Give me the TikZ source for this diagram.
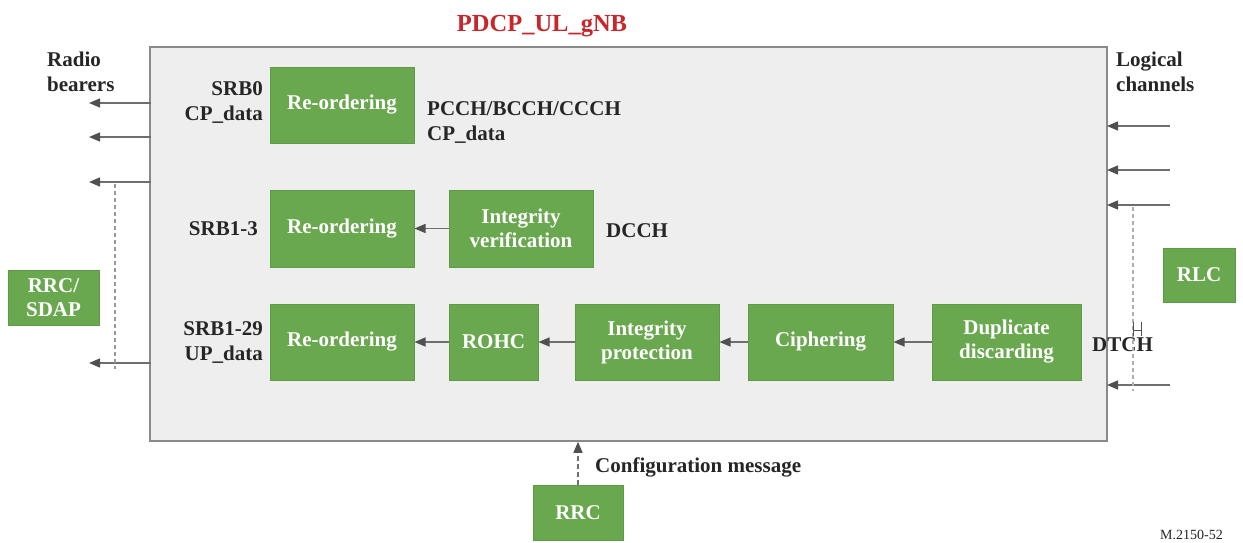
\documentclass[tikz,border=0pt]{standalone}
\usepackage{fontspec}
\setmainfont{Liberation Serif}
\usetikzlibrary{arrows.meta}
\definecolor{grn}{HTML}{6AA84F}
\definecolor{grnd}{HTML}{5E9A45}
\definecolor{bg}{HTML}{EEEEEE}
\definecolor{frame}{HTML}{8A8A8A}
\definecolor{ln}{HTML}{6E6E6E}
\definecolor{tip}{HTML}{505050}
\definecolor{ttl}{HTML}{C8262A}
\definecolor{txt}{HTML}{262626}
\tikzset{
  gbox/.style={draw=grnd, line width=1pt, fill=grn, text=white, font=\fontsize{21}{24}\selectfont\bfseries,
    align=center, inner sep=0pt, minimum width=#1},
  gbox/.default=144pt,
  lbl/.style={text=txt, font=\fontsize{21}{25}\selectfont\bfseries, inner sep=0pt},
  arr/.style={draw=ln, line width=1.4pt, -{Triangle[length=11pt,width=9pt,fill=tip,color=tip]}},
  darr/.style={arr, dashed, dash pattern=on 5pt off 3pt},
  vdash/.style={draw=ln!70, line width=1.4pt, dash pattern=on 4pt off 3pt},
}
\begin{document}
\begin{tikzpicture}[x=1pt,y=-1pt]
\useasboundingbox (0,0) rectangle (1243,542);
\fill[white] (0,0) rectangle (1243,542);
% main box
\node[draw=frame, line width=1.5pt, fill=bg, minimum width=957pt, minimum height=394pt, inner sep=0pt] (main) at (628.5,244) {};
\node[font=\fontsize{24.5}{28}\selectfont\bfseries, text=ttl, inner sep=0pt] (title) at (542,26) {PDCP\_UL\_gNB};
% row 1
\node[gbox, minimum height=76pt] (ro1) at (342,105) {Re-ordering};
% row 2
\node[gbox, minimum height=77pt] (ro2) at (342,228.5) {Re-ordering};
\node[gbox, minimum height=77pt] (iv) at (521,228.5) {Integrity\\verification};
% row 3
\node[gbox, minimum height=76pt] (ro3) at (342,342) {Re-ordering};
\node[gbox=89pt, minimum height=76pt] (rohc) at (493.5,342) {ROHC};
\node[gbox, minimum height=76pt] (ip) at (647,342) {Integrity\\protection};
\node[gbox=145pt, minimum height=76pt] (ci) at (820.5,342) {Ciphering};
\node[gbox=149pt, minimum height=76pt] (dd) at (1006.5,342) {Duplicate\\discarding};
% outside boxes
\node[gbox=91pt, minimum height=55pt] (sdap) at (53.5,297.5) {RRC/\\SDAP};
\node[gbox=72pt, minimum height=54pt] (rlc) at (1199,275) {RLC};
\node[gbox=90pt, minimum height=55pt] (rrc) at (578,512.5) {RRC};
% labels
\node[lbl, anchor=east, align=right] (l0) at (263,102) {SRB0\\CP\_data};
\node[lbl, anchor=east] (l13) at (258,229) {SRB1-3};
\node[lbl, anchor=east, align=right] (l129) at (263,343) {SRB1-29\\UP\_data};
\node[lbl, anchor=west, align=left] (pcch) at (427,123) {PCCH/BCCH/CCCH\\CP\_data};
\node[lbl, anchor=west] (dcch) at (606,231) {DCCH};
\node[lbl, anchor=west] (dtch) at (1092,345) {DTCH};
\node[lbl, anchor=west, align=left] (rb) at (47,72) {Radio\\bearers};
\node[lbl, anchor=west, align=left] (lc) at (1116,72) {Logical\\channels};
\node[lbl, anchor=west] (cfg) at (595,467) {Configuration message};
\node[font=\fontsize{14}{16}\selectfont, text=txt, anchor=north west, inner sep=0pt] (fig) at (1160,530) {M.2150-52};
% internal arrows
\draw[arr] (iv.west) -- (ro2.east);
\draw[arr] (rohc.west) -- (ro3.east);
\draw[arr] (ip.west) -- (rohc.east);
\draw[arr] (ci.west) -- (ip.east);
\draw[arr] (dd.west) -- (ci.east);
% left arrows
\foreach \i/\y in {1/103,2/137,3/182,4/363}{
  \coordinate (ls\i) at (151,\y);
  \coordinate (le\i) at (89,\y);
  \draw[arr] (ls\i) -- (le\i);
}
\coordinate (lv1) at (115,184);
\coordinate (lv2) at (115,369);
\draw[vdash] (lv1) -- (lv2);
% right arrows
\foreach \i/\y in {1/126,2/170,3/205,4/385}{
  \coordinate (rs\i) at (1170,\y);
  \coordinate (re\i) at (1107,\y);
  \draw[arr] (rs\i) -- (re\i);
}
\coordinate (rv1) at (1133,207);
\coordinate (rv2) at (1133,391);
\draw[vdash, draw=ln!55] (rv1) -- (rv2);
% small H mark
\coordinate (h1) at (1133,322);
\coordinate (h2) at (1141,322);
\draw[draw=txt!80, line width=1pt] (h1) -- ++(0,14) (h2) -- ++(0,14) (1133,330) -- (1141,330);
% configuration arrow
\draw[darr] (rrc.north) -- (rrc.north |- main.south);
\end{tikzpicture}
\end{document}
